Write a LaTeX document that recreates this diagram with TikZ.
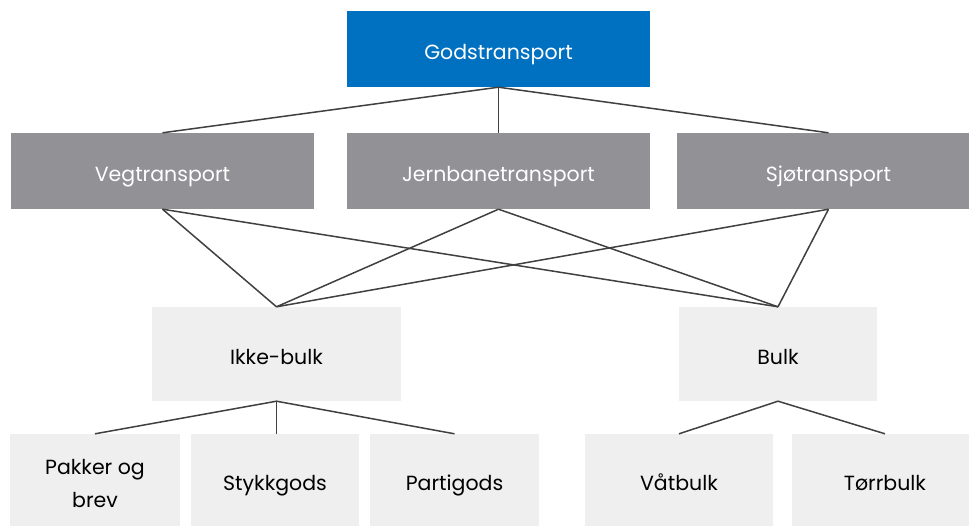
\documentclass[tikz,border=0pt]{standalone}
\usepackage{fontspec}
\setmainfont{Poppins}
\definecolor{topblue}{RGB}{0,112,192}
\definecolor{midgray}{RGB}{145,145,150}
\definecolor{lightbox}{RGB}{239,239,239}
\definecolor{linegray}{RGB}{64,64,64}
\begin{document}
\begin{tikzpicture}[x=1pt,y=-1pt,
  bx/.style={rectangle, inner sep=0pt, align=center, text height=20.5pt, text depth=0pt, font=\fontsize{20.5}{33}\selectfont},
  topbox/.style={bx, fill=topblue, text=white},
  midbox/.style={bx, fill=midgray, text=white},
  lowbox/.style={bx, fill=lightbox, text=black},
  conn/.style={draw=linegray, line width=1.5pt}]
\useasboundingbox (0,0) rectangle (969,525);
\node[topbox, minimum width=303pt, minimum height=76pt] (god) at (498.5,49) {Godstransport};
\node[midbox, minimum width=303pt, minimum height=76pt] (veg) at (162.5,171) {Vegtransport};
\node[midbox, minimum width=303pt, minimum height=76pt] (jern) at (498.5,171) {Jernbanetransport};
\node[midbox, minimum width=303pt, minimum height=76pt] (sjo) at (828.5,171) {Sjøtransport};
\node[lowbox, minimum width=249pt, minimum height=94pt] (ikke) at (276.5,354) {Ikke-bulk};
\node[lowbox, minimum width=198pt, minimum height=94pt] (bulk) at (778,354) {Bulk};
\node[lowbox, minimum width=170pt, minimum height=92pt, text height=55pt] (pak) at (95,480) {Pakker og\\brev};
\node[lowbox, minimum width=168pt, minimum height=92pt] (styk) at (275,480) {Stykkgods};
\node[lowbox, minimum width=169pt, minimum height=92pt] (part) at (454.5,480) {Partigods};
\node[lowbox, minimum width=188pt, minimum height=92pt] (vat) at (679,480) {Våtbulk};
\node[lowbox, minimum width=186pt, minimum height=92pt] (torr) at (885,480) {Tørrbulk};
\draw[conn] (veg.north) -- (god.south) -- (sjo.north);
\draw[conn] (god.south) -- (jern.north);
\draw[conn] (veg.south) -- (ikke.north);
\draw[conn] (veg.south) -- (bulk.north);
\draw[conn] (jern.south) -- (ikke.north);
\draw[conn] (jern.south) -- (bulk.north);
\draw[conn] (sjo.south) -- (ikke.north);
\draw[conn] (sjo.south) -- (bulk.north);
\draw[conn] (pak.north) -- (ikke.south) -- (part.north);
\draw[conn] (ikke.south) -- (ikke.south |- styk.north);
\draw[conn] (vat.north) -- (bulk.south) -- (torr.north);
\end{tikzpicture}
\end{document}
